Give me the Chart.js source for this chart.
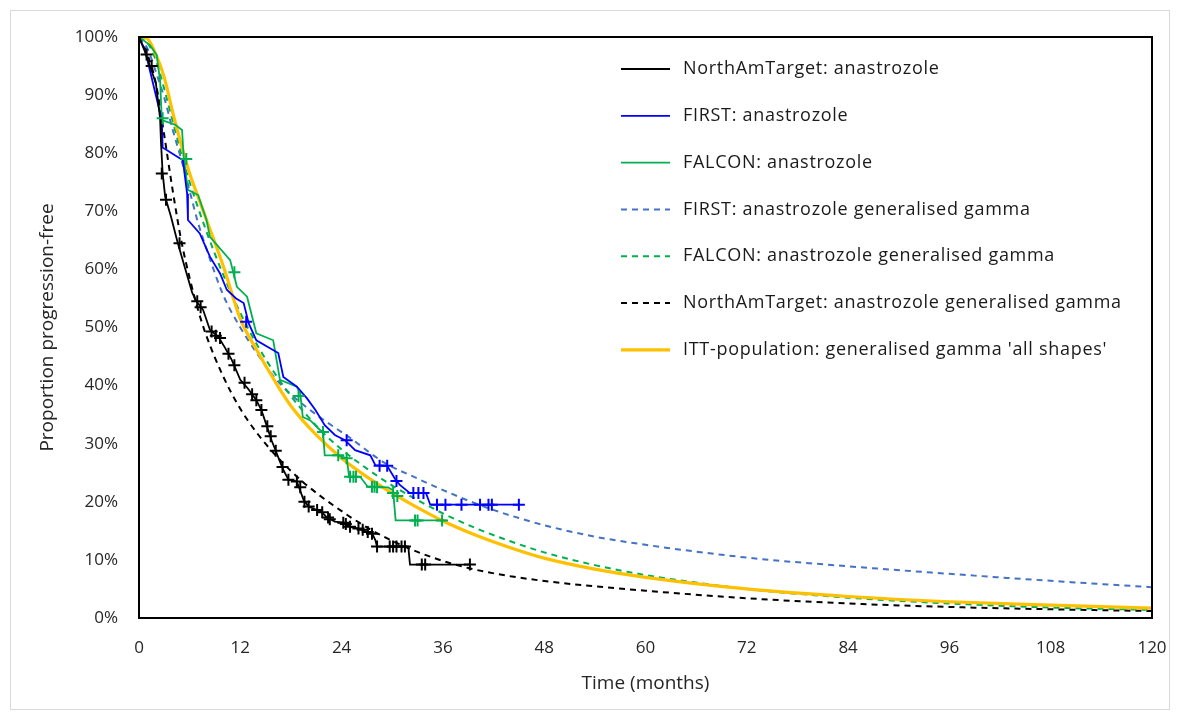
<!DOCTYPE html>
<html><head><meta charset="utf-8">
<script src="https://cdn.jsdelivr.net/npm/chart.js@4.4.0/dist/chart.umd.min.js"></script>
<style>html,body{margin:0;padding:0;background:#fff;}#wrap{position:relative;width:1179px;height:720px;}</style>
</head><body><div id="wrap"><canvas id="c" width="1179" height="720"></canvas></div>
<script>
// ---- tick labels ----
const xTicks = [0, 12, 24, 36, 48, 60, 72, 84, 96, 108, 120];
const yTicks = [0, 10, 20, 30, 40, 50, 60, 70, 80, 90, 100];

// ---- legend labels ----
const legendLabels = [
  "NorthAmTarget: anastrozole",
  "FIRST: anastrozole",
  "FALCON: anastrozole",
  "FIRST: anastrozole generalised gamma",
  "FALCON: anastrozole generalised gamma",
  "NorthAmTarget: anastrozole generalised gamma",
  "ITT-population: generalised gamma 'all shapes'"
];

// ---- Kaplan-Meier curves [month, % progression-free] ----
const northKM = [[0,100],[0.7,97.5],[1.3,95],[2,92],[2.5,86],[2.6,82],[2.8,76.6],[3.1,72.5],[3.8,69],[4.6,64.5],[5.5,60],[6.3,56],[6.8,54.5],[7.6,53],[8.4,49.6],[9.4,48.4],[10.2,46.5],[11,44.4],[12,41],[12.9,39.5],[13.9,37.5],[14.5,35.8],[15.1,33.2],[15.7,30.6],[16.3,28.4],[16.7,26.9],[17.1,25.5],[17.7,23.8],[18.7,23.5],[19.5,20.3],[20.1,19.2],[21,18.6],[21.6,18.3],[22.2,17.4],[23.2,16.6],[24.2,16.4],[25,15.7],[26,15.4],[26.8,14.9],[27.6,14.6],[28,13.4],[28.2,12.3],[31.9,12.3],[32.1,9.2],[39.2,9.2]];
const northCens = [[0.9,97],[1.5,95],[2.7,76.5],[3.2,72],[4.8,64.5],[6.9,54.5],[7.3,53.5],[8.6,49.3],[9.1,48.6],[9.6,48.2],[10.6,45.5],[11.3,43.5],[12.5,40.5],[13.4,38.5],[13.9,37.5],[14.5,35.8],[15.2,33],[15.6,31.3],[16.2,28.8],[17,26],[17.7,23.8],[18.7,23.5],[19.1,22.5],[19.6,20],[20.1,19.2],[21.1,18.6],[21.7,18.2],[22.4,17.3],[22.6,17],[24.2,16.4],[24.5,16.2],[25,15.7],[26,15.4],[26.5,15.2],[27.1,14.8],[27.6,14.5],[28.2,12.3],[29.7,12.3],[30.1,12.3],[30.5,12.3],[31.1,12.3],[31.5,12.3],[33.5,9.2],[33.9,9.2],[39.2,9.2]];

const firstKM = [[0,100],[0.7,97.8],[1.5,93],[2.7,85.7],[2.8,81],[5.2,78.8],[5.7,73],[5.8,68.5],[7.2,66.2],[8.4,62.2],[9.6,59.3],[10.4,56.5],[11.5,55],[12.4,54.2],[13,50.7],[13.9,47.8],[16.5,45.6],[17.1,41.5],[18.7,39.8],[19.9,37.8],[20.9,35.8],[22,33.2],[23.2,31.5],[24.4,30.6],[25.6,28.9],[27.4,28],[28,26.3],[29.4,26.2],[30.3,24],[30.9,22.9],[32.1,21.5],[34,21.5],[34.5,19.5],[45.1,19.5]];
const firstCens = [[12.7,51],[24.6,30.6],[28.5,26.2],[29.4,26.2],[30.5,23.6],[32.5,21.5],[33.1,21.5],[33.7,21.5],[35.3,19.5],[36.3,19.5],[38.2,19.5],[40.4,19.5],[41.4,19.5],[41.8,19.5],[45.0,19.5]];

const falconKM = [[0,100],[1.3,98.6],[2.1,96.9],[2.5,92.5],[2.7,85.7],[4.3,84.9],[5.1,84],[5.3,79.2],[5.8,73.7],[7,72.8],[8,68.5],[8.4,65.6],[10.8,61.6],[11.2,59.3],[11.6,57],[12.8,55.3],[13.9,49],[15.9,47.8],[16.7,41],[18.7,39.8],[19.1,38.7],[19.4,34.6],[20.3,34],[21.4,32.4],[21.8,32],[22,28],[23.6,28],[24.6,27.5],[24.9,24.3],[26.2,24.3],[27.1,22.6],[29.5,22.5],[30.1,22],[30.4,16.8],[36.4,16.8]];
const falconCens = [[0,100],[2.8,86],[5.6,79],[11.3,59.5],[18.9,38.2],[21.8,32],[23.6,28],[24.6,27.5],[25.0,24.3],[25.4,24.3],[25.7,24.3],[27.6,22.6],[27.9,22.6],[28.2,22.5],[30.1,21.5],[30.6,21],[32.7,16.8],[33.0,16.8],[35.9,16.8]];

// ---- parametric (generalised gamma) curves ----
const firstGG = [[0,100],[1,98],[2,94],[3,89.5],[4,84],[5,79],[6,73.5],[7,68],[8,63.5],[10,55.5],[12,50],[14,45.5],[16,41.5],[18,38.5],[21,35],[25,31],[29,26.8],[33,24],[37,21.4],[41,19.1],[45,17.2],[49,15.6],[54,14],[60,12.6],[72,10.4],[84,8.9],[96,7.6],[108,6.4],[120,5.3]];
const falconGG = [[0,100],[1,99],[2,96],[3,91],[4,85.5],[5,80],[6,75],[8,66.5],[10,59],[12,52.5],[14,47],[16,42.3],[18,38.2],[20,34.7],[22,31.6],[24,29],[27,25.7],[30,22.8],[33,20.3],[36,18],[40,15.4],[44,13.2],[48,11.3],[54,9.1],[60,7.4],[72,5],[84,3.5],[96,2.5],[108,1.8],[120,1.4]];
const northGG = [[0,100],[1,97],[2,92],[3,83],[4,73.5],[5,65],[6,58.5],[7,53],[8,48.5],[10,41.5],[12,36],[14,31.8],[16,28.3],[18,25.3],[20,22.7],[23,19.4],[27,15.6],[31,12.6],[35,10.3],[39,8.6],[44,7.2],[49,6.2],[60,4.7],[72,3.4],[84,2.5],[96,1.9],[108,1.5],[120,1.2]];
const ittGG = [[0,100],[1,99.7],[2,97],[3,93],[4,87],[5,81.5],[6,76.5],[7,72.5],[8,68.5],[10,60.5],[12,51.5],[14,46],[16,41],[18,36.5],[21,31.5],[24,27.5],[27,24.3],[30,21.5],[33,19],[36,16.7],[40,14.2],[44,12.1],[48,10.3],[54,8.4],[60,7],[72,5],[84,3.7],[96,2.8],[108,2.2],[120,1.7]];

const pts = a => a.map(p => ({x: p[0], y: p[1]}));
const FONT = '"Open Sans", "Noto Sans", sans-serif';

const C_BLACK = '#000000', C_BLUE = '#0000FF', C_GREEN = '#00B050', C_LBLUE = '#4472C4', C_ORANGE = '#FFC000';

const lineDs = (label, data, color, width, dash, extra) => Object.assign({
  label, data: pts(data), borderColor: color, backgroundColor: color, borderWidth: width,
  borderDash: dash || [], pointRadius: 0, showLine: true, fill: false, tension: 0
}, extra || {});
const censDs = (label, data, color) => ({
  label, data: pts(data), borderColor: color, backgroundColor: color, showLine: false,
  pointStyle: 'cross', pointRadius: 6, pointBorderWidth: 2, pointHoverRadius: 6
});

const datasets = [
  censDs('cN', northCens, C_BLACK),
  censDs('cF', firstCens, C_BLUE),
  censDs('cFa', falconCens, C_GREEN),
  lineDs(legendLabels[0], northKM, C_BLACK, 1.8),
  lineDs(legendLabels[1], firstKM, C_BLUE, 1.8),
  lineDs(legendLabels[2], falconKM, C_GREEN, 1.8),
  lineDs(legendLabels[6], ittGG, C_ORANGE, 3.2, [], {cubicInterpolationMode: 'monotone'}),
  lineDs(legendLabels[4], falconGG, C_GREEN, 2, [6, 5], {cubicInterpolationMode: 'monotone'}),
  lineDs(legendLabels[3], firstGG, C_LBLUE, 2, [6, 5], {cubicInterpolationMode: 'monotone'}),
  lineDs(legendLabels[5], northGG, C_BLACK, 2, [6, 5], {cubicInterpolationMode: 'monotone'})
];

const legendItems = [
  {label: legendLabels[0], color: C_BLACK, width: 1.8, dash: []},
  {label: legendLabels[1], color: C_BLUE, width: 1.8, dash: []},
  {label: legendLabels[2], color: C_GREEN, width: 1.8, dash: []},
  {label: legendLabels[3], color: C_LBLUE, width: 2, dash: [6, 5]},
  {label: legendLabels[4], color: C_GREEN, width: 2, dash: [6, 5]},
  {label: legendLabels[5], color: C_BLACK, width: 2, dash: [6, 5]},
  {label: legendLabels[6], color: C_ORANGE, width: 3.2, dash: []}
];

const framePlugin = {
  id: 'frame',
  beforeDraw(chart) {
    const ctx = chart.ctx;
    ctx.save();
    ctx.fillStyle = '#fff';
    ctx.fillRect(0, 0, chart.width, chart.height);
    ctx.strokeStyle = '#d9d9d9';
    ctx.lineWidth = 1;
    ctx.strokeRect(10.5, 10.5, 1159, 699);
    ctx.restore();
  },
  afterDatasetsDraw(chart) {
    const ctx = chart.ctx, a = chart.chartArea;
    ctx.save();
    ctx.strokeStyle = '#000';
    ctx.lineWidth = 2;
    ctx.strokeRect(a.left, a.top, a.right - a.left, a.bottom - a.top);
    // legend
    const x0 = 621, x1 = 670, tx = 683, y0 = 69, step = 46.8;
    ctx.font = '18px ' + FONT;
    try { ctx.letterSpacing = '0.7px'; } catch (e) {}
    ctx.textBaseline = 'middle';
    ctx.textAlign = 'left';
    legendItems.forEach((it, i) => {
      const y = y0 + i * step;
      ctx.beginPath();
      ctx.setLineDash(it.dash);
      ctx.strokeStyle = it.color;
      ctx.lineWidth = it.width;
      ctx.moveTo(x0, y); ctx.lineTo(x1, y); ctx.stroke();
      ctx.setLineDash([]);
      ctx.fillStyle = '#1a1a1a';
      ctx.fillText(it.label, tx, y);
    });
    ctx.restore();
  }
};

new Chart(document.getElementById('c'), {
  type: 'scatter',
  data: {datasets},
  options: {
    responsive: false, animation: false, devicePixelRatio: 1,
    layout: {padding: {left: 10, top: 37, right: 27, bottom: 10}},
    plugins: {legend: {display: false}, tooltip: {enabled: false}},
    scales: {
      x: {
        type: 'linear', min: 0, max: 120,
        afterBuildTicks: s => { s.ticks = xTicks.map(v => ({value: v})); },
        afterFit: s => { s.height = 720 - 618 - 10; },
        grid: {display: false}, border: {display: false},
        ticks: {color: '#262626', font: {family: FONT, size: 17}, padding: 12, maxRotation: 0, autoSkip: false},
        title: {display: true, text: 'Time (months)', color: '#262626', font: {family: FONT, size: 19}, padding: {top: 0, bottom: 15}}
      },
      y: {
        type: 'linear', min: 0, max: 100,
        afterBuildTicks: s => { s.ticks = yTicks.map(v => ({value: v})); },
        afterFit: s => { s.width = 139 - 10; },
        grid: {display: false}, border: {display: false},
        ticks: {color: '#262626', font: {family: FONT, size: 17}, padding: 13, callback: v => v + '%', autoSkip: false},
        title: {display: true, text: 'Proportion progression-free', color: '#262626', font: {family: FONT, size: 19}, padding: {top: 26, bottom: 0}}
      }
    }
  },
  plugins: [framePlugin]
});
</script></body></html>
